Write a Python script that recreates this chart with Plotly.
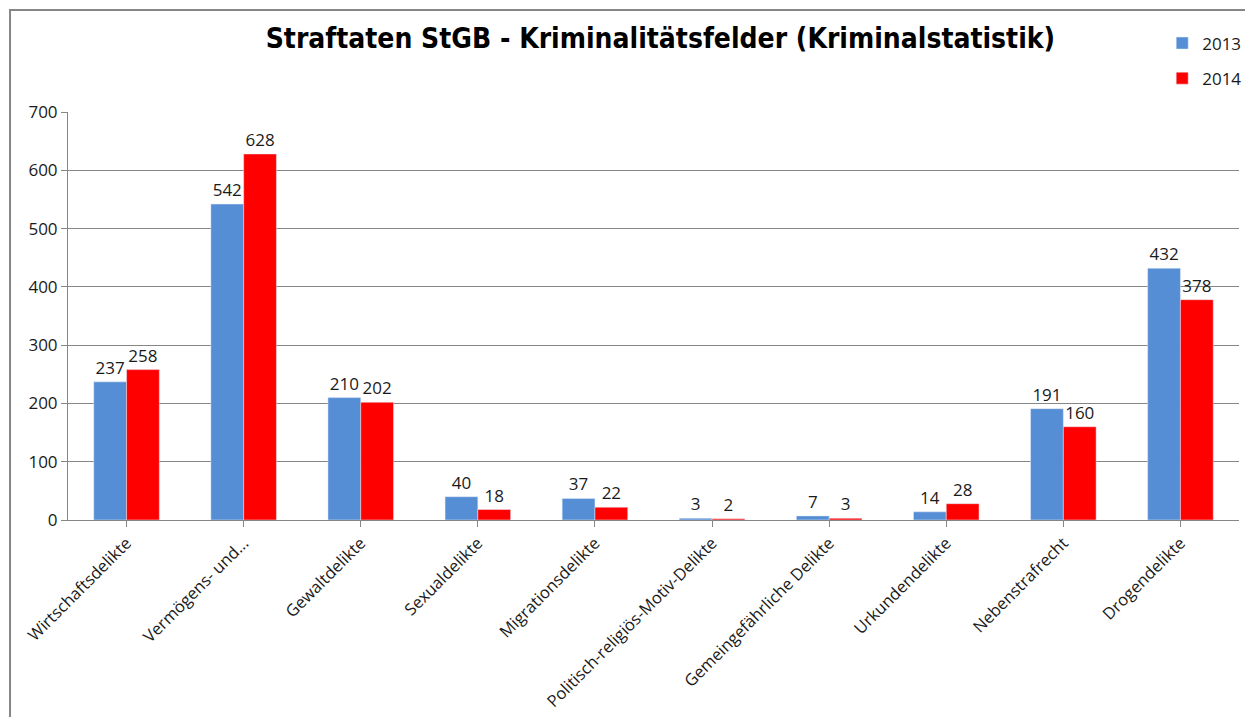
import plotly.graph_objects as go

categories = ["Wirtschaftsdelikte", "Vermögens- und...", "Gewaltdelikte", "Sexualdelikte",
              "Migrationsdelikte", "Politisch-religiös-Motiv-Delikte", "Gemeingefährliche Delikte",
              "Urkundendelikte", "Nebenstrafrecht", "Drogendelikte"]
values_2013 = [237, 542, 210, 40, 37, 3, 7, 14, 191, 432]
values_2014 = [258, 628, 202, 18, 22, 2, 3, 28, 160, 378]
y_ticks = [0, 100, 200, 300, 400, 500, 600, 700]

FONT = "Open Sans"
fig = go.Figure()
fig.add_trace(go.Bar(name="2013", x=categories, y=values_2013, marker_color="#558ED5",
                     legendgroup="a",
                     text=values_2013, textposition="outside", cliponaxis=False,
                     textfont=dict(family=FONT, size=17, color="#1a1a1a")))
fig.add_trace(go.Bar(name="2014", x=categories, y=values_2014, marker_color="#FF0000",
                     legendgroup="b",
                     text=values_2014, textposition="outside", cliponaxis=False,
                     textfont=dict(family=FONT, size=17, color="#1a1a1a")))

fig.update_layout(
    width=1245, height=709,
    margin=dict(l=60, r=14, t=104, b=197, autoexpand=False),
    paper_bgcolor="white", plot_bgcolor="white",
    barmode="group", bargap=0.44, bargroupgap=0,
    title=dict(text="<b>Straftaten StGB - Kriminalitätsfelder (Kriminalstatistik)</b>",
               x=0.524, xanchor="center", y=0.958, yanchor="middle",
               font=dict(family="DejaVu Sans Condensed", size=28, color="black")),
    legend=dict(x=1.007, xanchor="right", y=1.212, yanchor="top", bgcolor="rgba(0,0,0,0)",
                font=dict(family=FONT, size=17, color="#1a1a1a"), tracegroupgap=10,
                itemwidth=30),
    font=dict(family=FONT, size=17, color="#1a1a1a"),
)
fig.update_xaxes(tickangle=-45, showline=True, linecolor="#868686", linewidth=1,
                 ticks="outside", ticklen=6, tickcolor="#868686", automargin=False,
                 tickfont=dict(family=FONT, size=16.5, color="#1a1a1a"))
fig.update_yaxes(range=[0, 700], tickvals=y_ticks, showgrid=True, gridcolor="#868686",
                 gridwidth=1, showline=True, linecolor="#868686", linewidth=1,
                 ticks="outside", ticklen=6, tickcolor="#868686", zeroline=False,
                 automargin=False,
                 tickfont=dict(family=FONT, size=17, color="#1a1a1a"))

# outer chart frame (decoration)
fig.add_shape(type="path", xref="paper", yref="paper",
              path="M -0.0495 -0.5 L -0.0495 1.25 L 1.02 1.25",
              line=dict(color="#868686", width=2))

fig.write_html("out.html")
